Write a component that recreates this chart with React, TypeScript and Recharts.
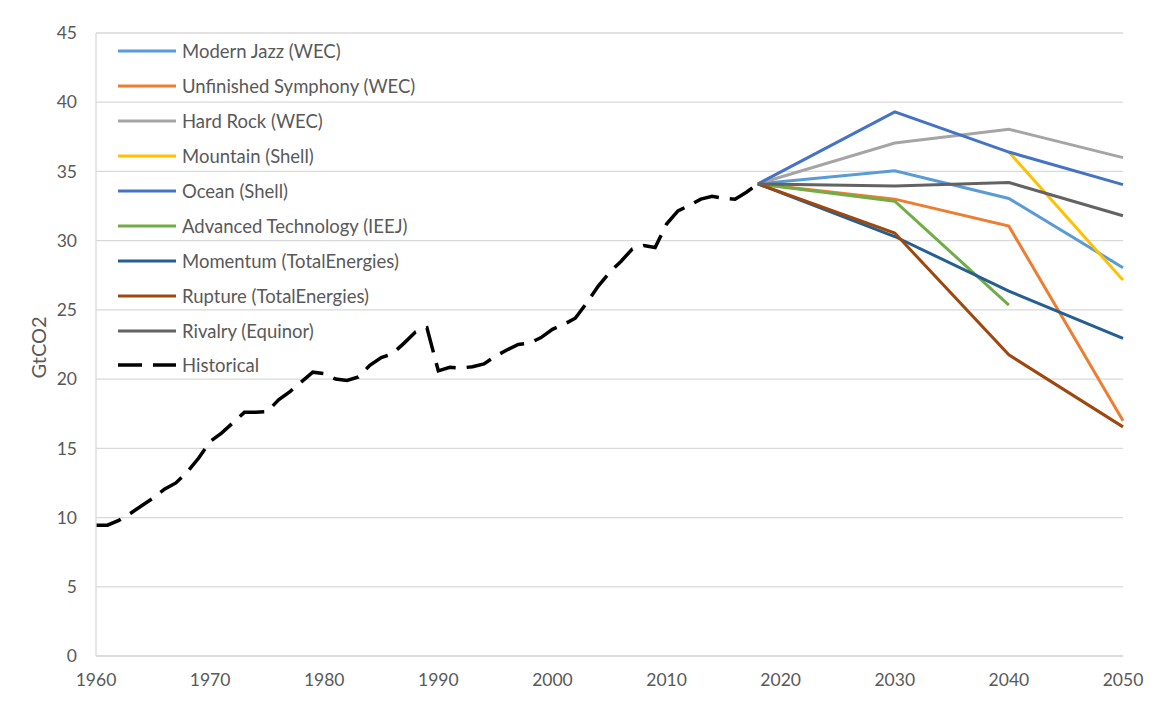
import React from 'react';
import { LineChart, Line, XAxis, YAxis, CartesianGrid, Legend } from 'recharts';

// historical emissions, one value per year from 1960 to 2018
const histYears = [
  1960, 1961, 1962, 1963, 1964, 1965, 1966, 1967, 1968, 1969,
  1970, 1971, 1972, 1973, 1974, 1975, 1976, 1977, 1978, 1979,
  1980, 1981, 1982, 1983, 1984, 1985, 1986, 1987, 1988, 1989,
  1990, 1991, 1992, 1993, 1994, 1995, 1996, 1997, 1998, 1999,
  2000, 2001, 2002, 2003, 2004, 2005, 2006, 2007, 2008, 2009,
  2010, 2011, 2012, 2013, 2014, 2015, 2016, 2017, 2018,
];
const historical = [
  9.45, 9.45, 9.8, 10.3, 10.85, 11.4, 12.05, 12.5, 13.3, 14.3,
  15.5, 16.1, 16.85, 17.6, 17.6, 17.65, 18.5, 19.1, 19.8, 20.5,
  20.4, 20.0, 19.9, 20.15, 21.0, 21.55, 21.85, 22.6, 23.4, 23.7,
  20.6, 20.85, 20.8, 20.9, 21.1, 21.65, 22.1, 22.5, 22.6, 23.0,
  23.6, 23.95, 24.4, 25.5, 26.7, 27.7, 28.5, 29.4, 29.65, 29.5,
  31.2, 32.15, 32.55, 33.0, 33.2, 33.05, 33.0, 33.5, 34.1,
];

// scenario pathways
const scenarioYears = [2018, 2030, 2040, 2050];
const modernJazz = [34.1, 35.05, 33.05, 28.05];
const unfinishedSymphony = [34.1, 33.0, 31.05, 17.0];
const hardRock = [34.1, 37.05, 38.05, 36.0];
const mountain = [null, null, 36.4, 27.15];
const ocean = [34.1, 39.3, 36.4, 34.05];
const advancedTechnology = [34.1, 32.85, 25.35, null];
const momentum = [34.1, 30.3, 26.35, 22.95];
const rupture = [34.1, 30.55, 21.75, 16.55];
const rivalry = [34.1, 33.95, 34.2, 31.8];

const xTicks = [1960, 1970, 1980, 1990, 2000, 2010, 2020, 2030, 2040, 2050];
const yTicks = [0, 5, 10, 15, 20, 25, 30, 35, 40, 45];

const scenarios = [
  { key: 'modernJazz', name: 'Modern Jazz (WEC)', values: modernJazz, color: '#5B9BD5' },
  { key: 'unfinishedSymphony', name: 'Unfinished Symphony (WEC)', values: unfinishedSymphony, color: '#ED7D31' },
  { key: 'hardRock', name: 'Hard Rock (WEC)', values: hardRock, color: '#A5A5A5' },
  { key: 'mountain', name: 'Mountain (Shell)', values: mountain, color: '#FFC000' },
  { key: 'ocean', name: 'Ocean (Shell)', values: ocean, color: '#4472C4' },
  { key: 'advancedTechnology', name: 'Advanced Technology (IEEJ)', values: advancedTechnology, color: '#70AD47' },
  { key: 'momentum', name: 'Momentum (TotalEnergies)', values: momentum, color: '#255E91' },
  { key: 'rupture', name: 'Rupture (TotalEnergies)', values: rupture, color: '#9E480E' },
  { key: 'rivalry', name: 'Rivalry (Equinor)', values: rivalry, color: '#636363' },
];

const HIST_DASH = '26 11';
const TEXT = '#595959';
const GRID = '#D9D9D9';
const FONT = "Lato, 'Open Sans', sans-serif";

// one row per year, scenario values merged in where they exist
const years = Array.from(new Set([...histYears, ...scenarioYears])).sort((a, b) => a - b);
const data = years.map((year) => {
  const row: Record<string, number | null> = { year };
  const hi = histYears.indexOf(year);
  if (hi >= 0) row.historical = historical[hi];
  const si = scenarioYears.indexOf(year);
  if (si >= 0) {
    scenarios.forEach((s) => {
      if (s.values[si] != null) row[s.key] = s.values[si];
    });
  }
  return row;
});

const legendItems = [
  ...scenarios.map((s) => ({ name: s.name, color: s.color, dash: undefined as string | undefined })),
  { name: 'Historical', color: '#000000', dash: HIST_DASH },
];

function LegendBox() {
  return (
    <div style={{ fontFamily: FONT, fontSize: 18.5, color: TEXT }}>
      {legendItems.map((item) => (
        <div key={item.name} style={{ display: 'flex', alignItems: 'center', height: 34.9 }}>
          <svg width={58} height={6} style={{ marginRight: 6, flexShrink: 0 }}>
            <line
              x1={0}
              y1={3}
              x2={58}
              y2={3}
              stroke={item.color}
              strokeWidth={item.dash ? 3.5 : 3}
              strokeDasharray={item.dash ? '24 11' : undefined}
            />
          </svg>
          <span style={{ whiteSpace: 'nowrap' }}>{item.name}</span>
        </div>
      ))}
    </div>
  );
}

function YLabel(props: any) {
  const { x, y, height } = props.viewBox;
  const cx = x + 2;
  const cy = y + height / 2 + 3;
  return (
    <text
      x={cx}
      y={cy}
      transform={`rotate(-90 ${cx} ${cy})`}
      textAnchor="middle"
      dominantBaseline="central"
      fill={TEXT}
      fontSize={20}
      fontFamily={FONT}
    >
      GtCO2
    </text>
  );
}

export default function App() {
  return (
    <div style={{ position: 'absolute', left: 0, top: 0, width: 1158, height: 704, background: '#fff' }}>
      <LineChart
        width={1158}
        height={704}
        data={data}
        margin={{ top: 33, right: 35, bottom: 18, left: 36 }}
        style={{ fontFamily: FONT }}
      >
        <CartesianGrid horizontal vertical={false} stroke={GRID} strokeWidth={1.3} />
        <XAxis
          dataKey="year"
          type="number"
          domain={[1960, 2050]}
          ticks={xTicks}
          interval={0}
          height={30}
          stroke={GRID}
          strokeWidth={1.3}
          tickLine={false}
          tickSize={0}
          tickMargin={18}
          tick={{ fill: TEXT, fontSize: 17.5, fontFamily: FONT }}
        />
        <YAxis
          type="number"
          domain={[0, 45]}
          ticks={yTicks}
          interval={0}
          width={60}
          stroke={GRID}
          strokeWidth={1.3}
          tickLine={false}
          tickSize={0}
          tickMargin={19}
          tick={{ fill: TEXT, fontSize: 17.5, fontFamily: FONT }}
          label={{ content: YLabel }}
        />
        <Legend
          layout="vertical"
          align="center"
          verticalAlign="middle"
          content={() => <LegendBox />}
          wrapperStyle={{ top: 34, left: 118, width: 340 }}
        />
        {scenarios.map((s) => (
          <Line
            key={s.key}
            dataKey={s.key}
            name={s.name}
            type="linear"
            stroke={s.color}
            strokeWidth={3}
            dot={false}
            activeDot={false}
            connectNulls
            isAnimationActive={false}
          />
        ))}
        <Line
          dataKey="historical"
          name="Historical"
          type="linear"
          stroke="#000000"
          strokeWidth={3.5}
          strokeDasharray={HIST_DASH}
          dot={false}
          activeDot={false}
          isAnimationActive={false}
        />
      </LineChart>
    </div>
  );
}
